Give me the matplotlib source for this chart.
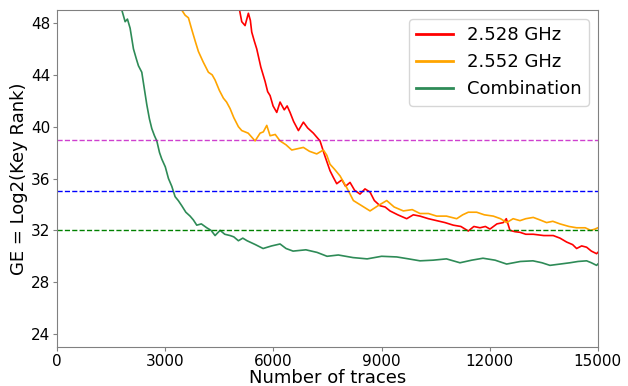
import matplotlib
matplotlib.use("Agg")
import matplotlib.pyplot as plt

# traces / GE values
red_x = [5060, 5121, 5213, 5305, 5360, 5398, 5470, 5537, 5650, 5768, 5840, 5907,
         5990, 6092, 6184, 6300, 6380, 6461, 6560, 6693, 6831, 6950, 7108, 7200,
         7293, 7420, 7570, 7660, 7756, 7900, 8000, 8125, 8250, 8402, 8540, 8680,
         8800, 8957, 9100, 9234, 9450, 9697, 9880, 10066, 10300, 10529, 10760,
         10990, 11200, 11406, 11560, 11730, 11880, 12007, 12200, 12376, 12460,
         12562, 12700, 12839, 13000, 13208, 13500, 13762, 13950, 14133, 14300,
         14411, 14550, 14688, 14820, 14965, 15000]
red_y = [49.0, 48.1, 47.8, 48.75, 48.2, 47.3, 46.6, 46.0, 44.6, 43.5, 42.7, 42.4,
         41.6, 41.1, 41.9, 41.3, 41.6, 41.1, 40.4, 39.7, 40.35, 39.9, 39.5, 39.2,
         38.9, 37.8, 36.6, 36.1, 35.6, 35.9, 35.4, 35.7, 35.1, 34.8, 35.2, 34.95,
         34.3, 33.9, 33.8, 33.5, 33.2, 32.9, 33.2, 33.1, 32.9, 32.75, 32.6,
         32.4, 32.3, 31.95, 32.3, 32.2, 32.3, 32.1, 32.5, 32.6, 32.9,
         32.0, 31.9, 31.85, 31.7, 31.7, 31.6, 31.6, 31.4, 31.1, 30.9,
         30.6, 30.8, 30.7, 30.4, 30.2, 30.3]

orange_x = [3457, 3550, 3642, 3734, 3830, 3919, 4050, 4196, 4300, 4381, 4500, 4612,
            4700, 4797, 4900, 5028, 5121, 5300, 5491, 5630, 5720, 5815, 5907, 6050,
            6184, 6350, 6508, 6831, 7000, 7201, 7386, 7480, 7570, 7700, 7848, 8033,
            8218, 8450, 8680, 8900, 9142, 9350, 9604, 9850, 10066, 10300, 10529,
            10800, 11084, 11250, 11406, 11638, 11850, 12099, 12300, 12470, 12650,
            12839, 13000, 13208, 13400, 13578, 13750, 13948, 14200, 14411, 14650,
            14800, 14919, 15000]
orange_y = [49.0, 48.6, 48.4, 47.5, 46.6, 45.8, 45.0, 44.2, 44.0, 43.6, 42.8, 42.2,
            41.9, 41.4, 40.7, 40.0, 39.7, 39.5, 38.9, 39.5, 39.6, 40.1, 39.3, 39.4,
            38.9, 38.6, 38.2, 38.4, 38.1, 37.9, 38.2, 37.8, 37.1, 36.7, 36.2, 35.3,
            34.3, 33.9, 33.5, 33.9, 34.3, 33.8, 33.5, 33.6, 33.3, 33.3, 33.1,
            33.1, 32.9, 33.2, 33.4, 33.4, 33.2, 33.1, 32.9, 32.6, 32.9,
            32.75, 32.9, 33.0, 32.8, 32.6, 32.7, 32.5, 32.3, 32.2, 32.2,
            32.0, 32.1, 32.2]

green_x = [1794, 1886, 1950, 2024, 2117, 2200, 2255, 2348, 2420, 2487, 2560, 2626,
           2700, 2765, 2840, 2903, 3000, 3088, 3180, 3272, 3360, 3457, 3570, 3688,
           3780, 3873, 4000, 4150, 4270, 4381, 4450, 4520, 4650, 4797, 4900, 5028,
           5150, 5269, 5500, 5713, 5950, 6184, 6350, 6545, 6900, 7210, 7488, 7800,
           8208, 8600, 9000, 9420, 9750, 10066, 10427, 10800, 11175, 11500, 11813,
           12150, 12470, 12850, 13200, 13450, 13671, 13950, 14226, 14450, 14688,
           14820, 14965, 15000]
green_y = [49.0, 48.1, 48.3, 47.6, 46.0, 45.2, 44.7, 44.2, 42.9, 41.7, 40.6, 39.85,
           39.3, 38.9, 38.0, 37.5, 36.9, 36.0, 35.4, 34.6, 34.3, 33.9, 33.4, 33.1,
           32.8, 32.4, 32.5, 32.2, 32.0, 31.6, 31.8, 32.0, 31.7, 31.6, 31.5, 31.2,
           31.4, 31.2, 30.9, 30.6, 30.8, 30.95, 30.6, 30.4, 30.5, 30.3, 30.0, 30.1,
           29.9, 29.8, 30.0, 29.95, 29.8, 29.65, 29.7, 29.8, 29.5, 29.7, 29.85,
           29.7, 29.4, 29.6, 29.65, 29.5, 29.3, 29.4, 29.5, 29.6, 29.65,
           29.5, 29.3, 29.4]

thresholds = [39, 35, 32]
threshold_colors = ["m", "b", "g"]

fig = plt.figure(figsize=(6.28, 3.86), dpi=100)
ax = fig.add_axes([0.091, 0.101, 0.861, 0.873])

ax.plot(red_x, red_y, color="red", linewidth=1.2, label="2.528 GHz")
ax.plot(orange_x, orange_y, color="orange", linewidth=1.2, label="2.552 GHz")
ax.plot(green_x, green_y, color="seagreen", linewidth=1.2, label="Combination")

for th, c in zip(thresholds, threshold_colors):
    ax.axhline(th, color=c, linestyle="--", linewidth=1, alpha=0.75 if c == "m" else 1)

ax.set_xlim(0, 15000)
ax.set_ylim(23, 49)
ax.set_xticks([0, 3000, 6000, 9000, 12000, 15000])
ax.set_yticks([24, 28, 32, 36, 40, 44, 48])
ax.tick_params(labelsize=11, color="gray", length=3, pad=2)
ax.set_xlabel("Number of traces", fontsize=13, labelpad=0)
ax.set_ylabel("GE = Log2(Key Rank)", fontsize=13, labelpad=2)
for s in ax.spines.values():
    s.set_color("gray")

leg = ax.legend(loc="upper right", fontsize=13)
for h in leg.get_lines():
    h.set_linewidth(2)

fig.savefig("out.png", dpi=100)
